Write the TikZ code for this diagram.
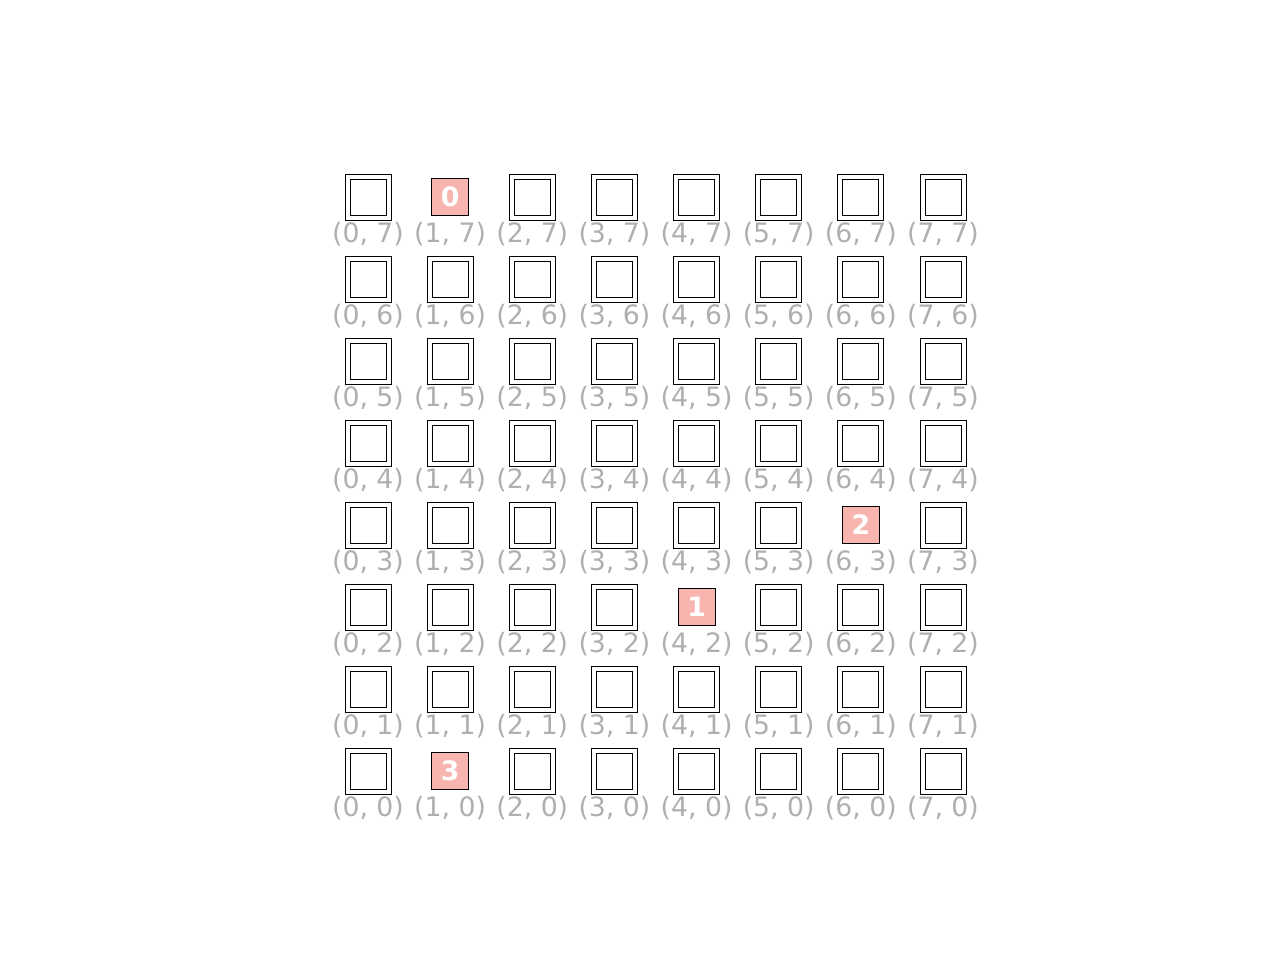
\documentclass[tikz,border=0pt]{standalone}
\usepackage{fontspec}
\setmainfont{DejaVu Sans}
\usepackage{tikz}
\definecolor{markpink}{RGB}{248,180,174}
\definecolor{labelgray}{RGB}{175,175,175}
\tikzstyle{cell} = [
    rectangle,
    minimum size=1.15cm,
    line width=0.6pt,
    draw=black
]
\tikzstyle{innercell} = [
    rectangle,
    minimum size=0.9cm,
    line width=0.6pt,
    draw=black
]
\tikzstyle{blank} = [
    rectangle,
    minimum size=1.25cm,
    fill=white
]
\tikzstyle{marked} = [
    rectangle,
    minimum size=0.92cm,
    line width=0.6pt,
    draw=black,
    fill=markpink,
    text=white,
    font=\fontsize{19}{22}\selectfont\bfseries
]
\tikzstyle{coordlabel} = [
    text=labelgray,
    inner sep=0pt,
    font=\fontsize{19}{22}\selectfont
]

\begin{document}
\begin{tikzpicture}
\useasboundingbox (0,0) rectangle (32,-24);

% board of cells with their coordinates
\foreach \x in {0,...,7}
\foreach \y in {0,...,7} {
  \node (cell-\x-\y) [cell] at (9.2+2.0536*\x, -19.275+2.05*\y) {};
  \node (box-\x-\y) [innercell] at (cell-\x-\y) {};
  \node (lbl-\x-\y) [coordlabel] at ([yshift=-0.925cm]cell-\x-\y) {(\x, \y)};
}

% marked cells
\node (blank-0) [blank] at (cell-1-7) {};
\node (mark-0) [marked] at (cell-1-7) {0};
\node (blank-1) [blank] at (cell-4-2) {};
\node (mark-1) [marked] at (cell-4-2) {1};
\node (blank-2) [blank] at (cell-6-3) {};
\node (mark-2) [marked] at (cell-6-3) {2};
\node (blank-3) [blank] at (cell-1-0) {};
\node (mark-3) [marked] at (cell-1-0) {3};

\end{tikzpicture}
\end{document}
